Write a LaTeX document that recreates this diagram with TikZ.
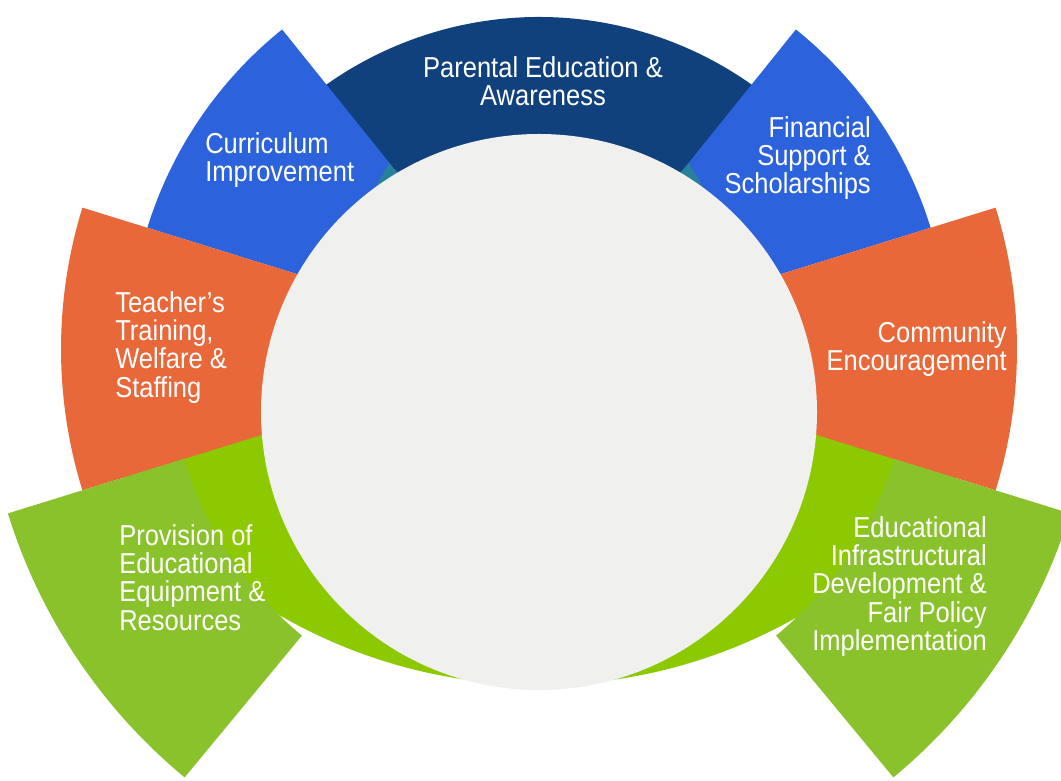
\documentclass[tikz,border=0pt]{standalone}
\usepackage{fontspec}
\setmainfont[FakeStretch=0.885]{Liberation Sans}
\definecolor{navyarc}{HTML}{10417C}
\definecolor{bluearc}{HTML}{2C63DC}
\definecolor{orangearc}{HTML}{E9683A}
\definecolor{olivearc}{HTML}{8AC22B}
\definecolor{limeband}{HTML}{8CC900}
\definecolor{tealgap}{HTML}{27819A}
\definecolor{coregray}{HTML}{F0F0EE}

\begin{document}
\begin{tikzpicture}[x=0.025cm, y=0.025cm,
    every node/.style = {text = white, inner sep = 0pt, font = \fontsize{20.5}{20.2}\selectfont}]
    \useasboundingbox (0,0) rectangle (1061,781);
    \fill[white] (0,0) rectangle (1061,781);
    % green band under the circle
    \fill[limeband] (540,617) -- +(215:521) arc[start angle=215, end angle=325, radius=521] -- cycle;
    % top arc
    \fill[navyarc] (539,396) -- +(40:368) arc[start angle=40, end angle=140, radius=368] -- cycle;
    % side petals
    \fill[bluearc] (539,432) -- +(128.8:410) arc[start angle=128.8, end angle=162.8, radius=410] -- cycle;
    \fill[bluearc] (539,432) -- +(17.2:410) arc[start angle=17.2, end angle=51.2, radius=410] -- cycle;
    \fill[orangearc] (539,432) -- +(162.8:478) arc[start angle=162.8, end angle=197.2, radius=478] -- cycle;
    \fill[orangearc] (539,432) -- +(-17.2:478) arc[start angle=-17.2, end angle=17.2, radius=478] -- cycle;
    \fill[olivearc] (539,432) ++(197.2:372) arc[start angle=197.2, end angle=230.4, radius=372]
        -- ++(230.4:184) arc[start angle=230.4, end angle=197.2, radius=556] -- cycle;
    \fill[olivearc] (539,432) ++(342.8:372) arc[start angle=342.8, end angle=309.6, radius=372]
        -- ++(309.6:184) arc[start angle=309.6, end angle=342.8, radius=556] -- cycle;
    \fill[tealgap] (389,618) -- (407,598) -- (368,581) -- cycle;
    \fill[tealgap] (689,618) -- (671,598) -- (710,581) -- cycle;
    % centre disc
    \fill[coregray] (539,369) circle[radius=278];

    \node (parental) [anchor = north, align = center] at (543,725) {Parental Education \&\\Awareness};
    \node (curric) [anchor = north west, align = left] at (205,649) {Curriculum\\Improvement};
    \node (financial) [anchor = north east, align = right] at (871,665) {Financial\\Support \&\\Scholarships};
    \node (teacher) [anchor = north west, align = left] at (115,490) {Teacher’s\\Training,\\Welfare \&\\Staffing};
    \node (community) [anchor = north east, align = right] at (1007,460) {Community\\Encouragement};
    \node (provision) [anchor = north west, align = left] at (119,257) {Provision of\\Educational\\Equipment \&\\Resources};
    \node (infra) [anchor = north east, align = right] at (987,265) {Educational\\Infrastructural\\Development \&\\Fair Policy\\Implementation};
\end{tikzpicture}
\end{document}
